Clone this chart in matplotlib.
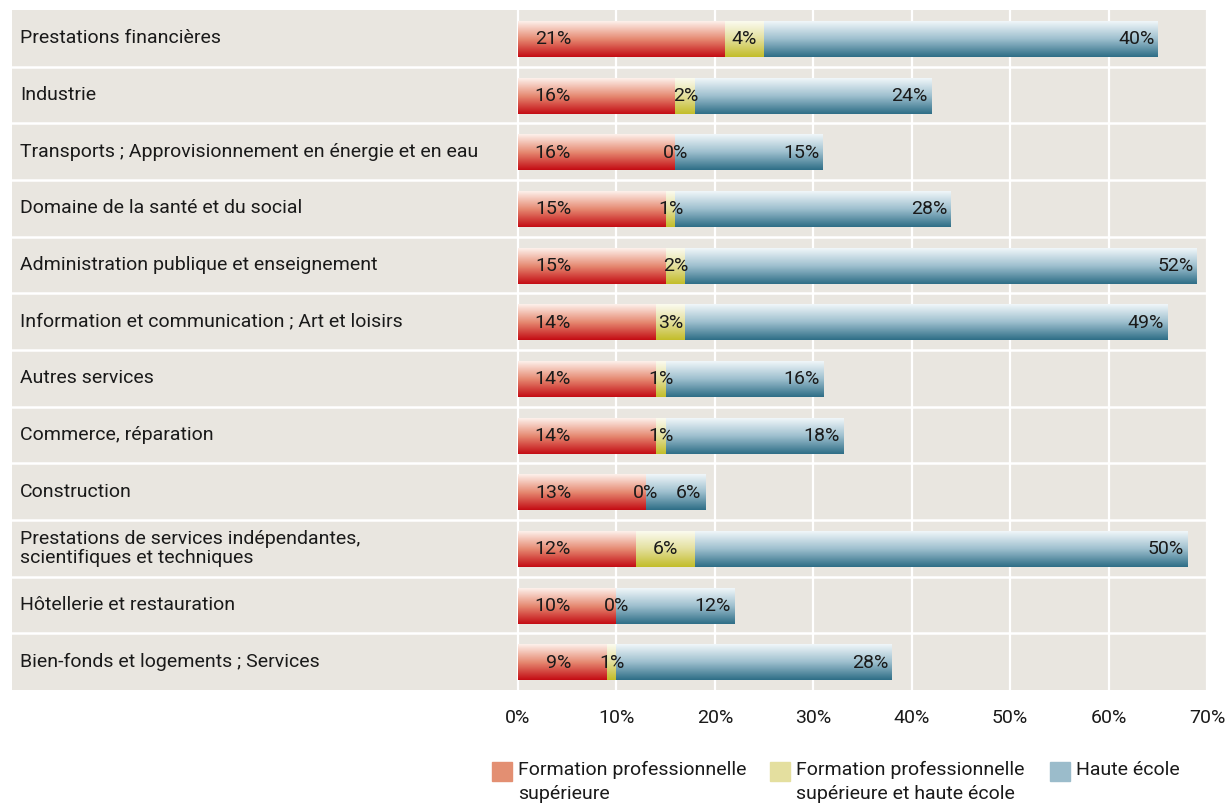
import matplotlib
matplotlib.use("Agg")
import matplotlib.pyplot as plt
import numpy as np
from matplotlib.colors import LinearSegmentedColormap
from matplotlib.patches import Rectangle

categories = [
    "Prestations financières",
    "Industrie",
    "Transports ; Approvisionnement en énergie et en eau",
    "Domaine de la santé et du social",
    "Administration publique et enseignement",
    "Information et communication ; Art et loisirs",
    "Autres services",
    "Commerce, réparation",
    "Construction",
    "Prestations de services indépendantes,\nscientifiques et techniques",
    "Hôtellerie et restauration",
    "Bien-fonds et logements ; Services",
]
prof_sup = [21, 16, 16, 15, 15, 14, 14, 14, 13, 12, 10, 9]
prof_et_he = [4, 2, 0, 1, 2, 3, 1, 1, 0, 6, 0, 1]
haute_ecole = [40, 24, 15, 28, 52, 49, 16, 18, 6, 50, 12, 28]
series_names = ["Formation professionnelle\nsupérieure",
                "Formation professionnelle\nsupérieure et haute école",
                "Haute école"]
xticks = [0, 10, 20, 30, 40, 50, 60, 70]

plt.rcParams['font.family'] = ['Roboto', 'DejaVu Sans']
txt = '#1a1a1a'
panel = '#e9e6e0'

grads = [
    LinearSegmentedColormap.from_list('r', ['#fdf0ea', '#e68a72', '#c40d14']),
    LinearSegmentedColormap.from_list('y', ['#fbfbef', '#e3df9c', '#c3bd2a']),
    LinearSegmentedColormap.from_list('b', ['#f0f6f9', '#9dbfce', '#2f6e87']),
]
legend_cols = ['#e38f72', '#e4df9f', '#9bbccb']

fig = plt.figure(figsize=(12.28, 8.09), dpi=100)
ax = fig.add_axes([12/1228, 1-690/809, 1195/1228, 680/809])
ax.set_facecolor(panel)
for s in ax.spines.values():
    s.set_visible(False)

y = np.arange(len(categories)) + 0.02
x0 = -(518-12)/(689/70)

for xv in xticks:
    ax.axvline(xv, color='white', lw=1.6, zorder=1)
for i in range(1, len(categories)):
    ax.axhline(i-0.5, color='white', lw=1.8, zorder=1)

grad = np.linspace(0, 1, 64).reshape(-1, 1)
left = np.zeros(len(categories))
for vals, cmap in zip([prof_sup, prof_et_he, haute_ecole], grads):
    bars = ax.barh(y, vals, left=left, height=0.62, color='none', zorder=2)
    for r in bars:
        if r.get_width() <= 0:
            continue
        bx, by, bw, bh = r.get_x(), r.get_y(), r.get_width(), r.get_height()
        ax.imshow(grad, cmap=cmap, aspect='auto', origin='upper',
                  extent=(bx, bx+bw, by+bh, by), zorder=2, interpolation='bilinear')
    left = left + np.array(vals)
ax.set_xlim(x0, 70)
ax.set_ylim(len(categories)-0.5, -0.5)

fs = 14
for i, cat in enumerate(categories):
    ax.text(-50.6, i, cat, va='center', ha='left', fontsize=fs, color=txt, zorder=3,
            linespacing=1.05)
    a, b, c = prof_sup[i], prof_et_he[i], haute_ecole[i]
    yy = y[i]
    ax.text(5.4, yy, f"{a}%", va='center', ha='right', fontsize=fs, color=txt, zorder=3)
    ax.text(a + b/2, yy, f"{b}%", va='center', ha='center', fontsize=fs, color=txt, zorder=3)
    ax.text(a + b + c - 0.35, yy, f"{c}%", va='center', ha='right', fontsize=fs, color=txt, zorder=3)

ax.set_yticks([])
ax.set_xticks(xticks)
ax.set_xticklabels([f"{v}%" for v in xticks], fontsize=fs, color=txt)
ax.tick_params(axis='x', length=0, pad=14)

# legend
lx = [492, 770, 1050]
for px, col, name in zip(lx, legend_cols, series_names):
    fig.patches.append(Rectangle((px/1228, 1-781/809), 20/1228, 19/809,
                                 transform=fig.transFigure, color=col))
    fig.text((px+26)/1228, 1-761/809, name, ha='left', va='top', fontsize=fs,
             color=txt, linespacing=1.45)

fig.savefig('out.png', dpi=100, facecolor='white')
